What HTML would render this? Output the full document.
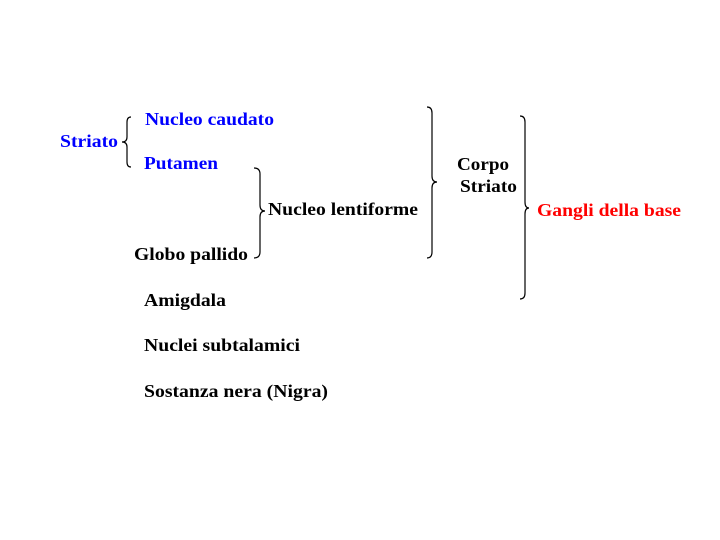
<!DOCTYPE html>
<html><head><style>html,body{margin:0;padding:0;background:#fff;}svg{display:block}</style></head>
<body>
<svg width="720" height="540" xmlns="http://www.w3.org/2000/svg" font-family="Liberation Serif, serif" font-weight="bold" font-size="18">
<g fill="none" stroke="#000" stroke-width="1.2">
<path d="M131,117 Q127,117 127,122 L127,137 Q127,142 122,142 Q127,142 127,147 L127,162 Q127,167 131,167"/>
<path d="M254,168 Q260,168 260,174 L260,205 Q260,211 265,211 Q260,211 260,217 L260,252 Q260,258 254,258"/>
<path d="M427,107 Q432,107 432,113 L432,176 Q432,182 437,182 Q432,182 432,188 L432,252 Q432,258 427,258"/>
<path d="M520,116 Q525,116 525,122 L525,202 Q525,208 529,208 Q525,208 525,214 L525,293 Q525,299 520,299"/>
</g>
<g fill="#0000ff">
<text x="145" y="125" textLength="129" lengthAdjust="spacingAndGlyphs">Nucleo caudato</text>
<text x="60" y="147" textLength="58" lengthAdjust="spacingAndGlyphs">Striato</text>
<text x="144" y="169" textLength="74" lengthAdjust="spacingAndGlyphs">Putamen</text>
</g>
<g fill="#000">
<text x="268" y="215" textLength="150" lengthAdjust="spacingAndGlyphs">Nucleo lentiforme</text>
<text x="134" y="260" textLength="114" lengthAdjust="spacingAndGlyphs">Globo pallido</text>
<text x="457" y="170" textLength="52" lengthAdjust="spacingAndGlyphs">Corpo</text>
<text x="460" y="192" textLength="57" lengthAdjust="spacingAndGlyphs">Striato</text>
<text x="144" y="306" textLength="82" lengthAdjust="spacingAndGlyphs">Amigdala</text>
<text x="144" y="351" textLength="156" lengthAdjust="spacingAndGlyphs">Nuclei subtalamici</text>
<text x="144" y="397" textLength="184" lengthAdjust="spacingAndGlyphs">Sostanza nera (Nigra)</text>
</g>
<text x="537" y="216" fill="#ff0000" textLength="144" lengthAdjust="spacingAndGlyphs">Gangli della base</text>
</svg>
</body></html>
